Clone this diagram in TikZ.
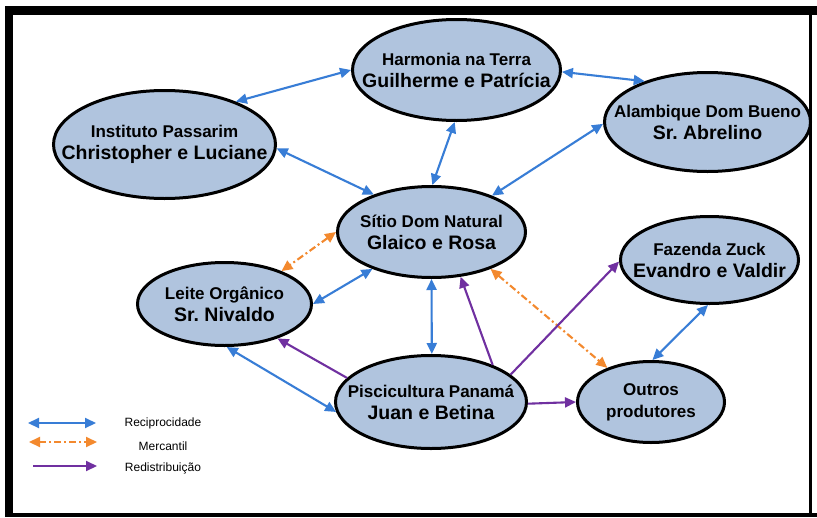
\documentclass[tikz,border=0pt]{standalone}
\usepackage{fontspec}
\setmainfont{Liberation Sans}
\usetikzlibrary{shapes.geometric,arrows.meta}
\definecolor{ellfill}{RGB}{176,196,222}
\definecolor{recblue}{RGB}{56,125,214}
\definecolor{merorange}{RGB}{243,137,46}
\definecolor{redpurple}{RGB}{112,48,160}
\begin{document}
\begin{tikzpicture}[x=1pt,y=-1pt,
  elli/.style={ellipse, draw=black, line width=3pt, fill=ellfill, inner sep=0pt},
  txt/.style={align=center, font=\bfseries\fontsize{17}{22}\selectfont, inner sep=0pt},
  leg/.style={font=\fontsize{12}{14}\selectfont, inner sep=0pt},
  tip/.tip={Triangle[length=11pt,width=10pt]},
  recip/.style={draw=recblue, line width=2.1pt, tip-tip},
  merc/.style={draw=merorange, line width=2.1pt, tip-tip, dash pattern=on 7pt off 3pt on 2pt off 3pt},
  redis/.style={draw=redpurple, line width=2.1pt, -tip},
  framebar/.style={fill=black, draw=none}
]
\useasboundingbox (0,0) rectangle (817,517);
\fill[white] (0,0) rectangle (817,517);
% frame
\path[framebar] (5,6) rectangle (817,15);
\path[framebar] (5,6) rectangle (13,517);
\path[framebar] (5,513) rectangle (817,517);
\path[framebar] (809,6) rectangle (812,513);

% ellipses
\node[elli, minimum width=208pt, minimum height=101pt] (harm) at (456.5,70) {};
\node[elli, minimum width=222pt, minimum height=108pt] (inst) at (164.5,144.5) {};
\node[elli, minimum width=206pt, minimum height=99pt] (alam) at (707.5,122) {};
\node[elli, minimum width=188pt, minimum height=91pt] (sitio) at (431.5,232) {};
\node[elli, minimum width=174pt, minimum height=83pt] (leite) at (224.5,304) {};
\node[elli, minimum width=191pt, minimum height=93pt] (pisc) at (431,402) {};
\node[elli, minimum width=147pt, minimum height=81pt] (outros) at (651,402) {};
\node[elli, minimum width=178pt, minimum height=87pt] (faz) at (709.5,260) {};

% texts
\node[txt] (harm-t) at (harm) {Harmonia na Terra\\{\fontsize{19.5}{22}\selectfont Guilherme e Patrícia}};
\node[txt] (inst-t) at (inst) {Instituto Passarim\\{\fontsize{19.5}{22}\selectfont Christopher e Luciane}};
\node[txt] (alam-t) at (alam) {Alambique Dom Bueno\\{\fontsize{19.5}{22}\selectfont Sr.\ Abrelino}};
\node[txt] (sitio-t) at (sitio) {Sítio Dom Natural\\{\fontsize{19.5}{22}\selectfont Glaico e Rosa}};
\node[txt] (leite-t) at (leite) {Leite Orgânico\\{\fontsize{19.5}{22}\selectfont Sr.\ Nivaldo}};
\node[txt] (pisc-t) at (pisc) {Piscicultura Panamá\\{\fontsize{19.5}{22}\selectfont Juan e Betina}};
\node[txt] (outros-t) at (outros) {Outros\\produtores};
\node[txt] (faz-t) at (faz) {Fazenda Zuck\\{\fontsize{19.5}{22}\selectfont Evandro e Valdir}};

% reciprocidade
\draw[recip] (inst.31.7) -- (harm.180.5);
\draw[recip] (inst.358.7) -- (sitio.147.2);
\draw[recip] (harm.268.4) -- (sitio.89.4);
\draw[recip] (harm.359) -- (alam.147);
\draw[recip] (alam.181.1) -- (sitio.31.4);
\draw[recip] (sitio.212.6) -- (leite.0);
\draw[recip] (sitio.270) -- (pisc.89);
\draw[recip] (leite.273.3) -- (pisc.186.4);
\draw[recip] (faz.268.1) -- (outros.88.6);

% mercantil
\draw[merc] (sitio.180.6) -- (leite.30.7);
\draw[merc] (sitio.328.6) -- (outros.142.3);

% redistribuicao
\draw[redis] (pisc.164.4) -- (leite.327.8);
\draw[redis] (pisc.31.7) -- (sitio.303.3);
\draw[redis] (pisc.19.1) -- (faz.181.3);
\draw[redis] (pisc.359.4) -- (outros.180.8);

% legend
\coordinate (l1a) at (28,423); \coordinate (l1b) at (96,423);
\coordinate (l2a) at (29,442); \coordinate (l2b) at (97,442);
\coordinate (l3a) at (33,466); \coordinate (l3b) at (97,466);
\draw[recip] (l1a) -- (l1b);
\draw[merc] (l2a) -- (l2b);
\draw[redis] (l3a) -- (l3b);
\node[leg] (l1t) at (163,423) {Reciprocidade};
\node[leg] (l2t) at (163,446) {Mercantil};
\node[leg] (l3t) at (163,468) {Redistribuição};
\end{tikzpicture}
\end{document}
